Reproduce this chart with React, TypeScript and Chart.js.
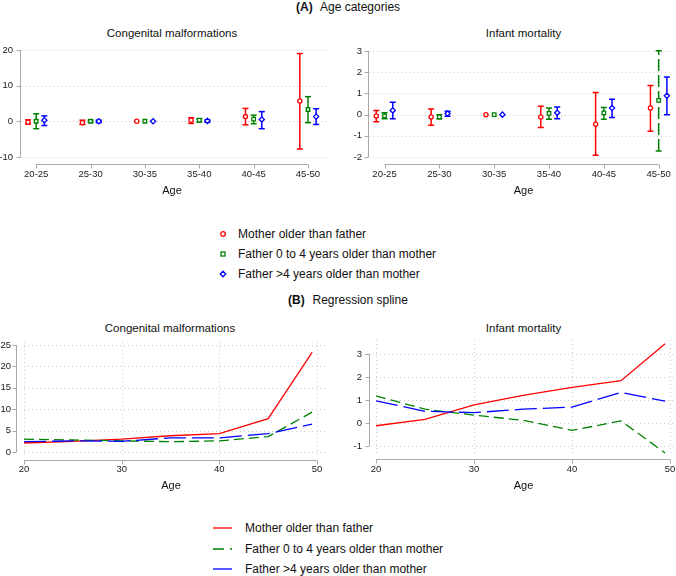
import React, { useEffect, useRef } from 'react';
import { Chart, registerables } from 'chart.js';

Chart.register(...registerables);

const FONT = "'Liberation Sans', Arial, Helvetica, sans-serif";

// ---------- shared ----------
const ageGroups = ['20-25', '25-30', '30-35', '35-40', '40-45', '45-50'];
const seriesNames = [
  'Mother older than father',
  'Father 0 to 4 years older than mother',
  'Father >4 years older than mother',
];
const seriesColors = ['#ff0000', '#008000', '#0000ff'];
const markerStyles = ['circle', 'rect', 'rectRot'];
const markerRadii = [2.1, 2.5, 2.6];
const groupOffsets = [-0.15, 0, 0.15];

// ---------- (A) Congenital malformations, by age category ----------
const cmMotherEst = [-0.3, -0.4, 0, 0.3, 1.3, 5.7];
const cmMotherLo = [-0.8, -0.9, null, -0.6, -1.0, -7.8];
const cmMotherHi = [0.4, 0.3, null, 1.0, 3.6, 19.0];
const cmFather04Est = [0, 0, 0, 0.3, 0.6, 3.3];
const cmFather04Lo = [-2.1, -0.3, null, -0.2, -0.7, -0.4];
const cmFather04Hi = [2.1, 0.3, null, 0.7, 1.7, 6.9];
const cmFather4Est = [0.3, 0, 0, 0.1, 0.5, 1.3];
const cmFather4Lo = [-1.2, -0.4, null, -0.3, -2.1, -0.9];
const cmFather4Hi = [1.5, 0.3, null, 0.4, 2.7, 3.5];

// ---------- (A) Infant mortality, by age category ----------
const imMotherEst = [-0.06, -0.11, 0, -0.11, -0.45, 0.31];
const imMotherLo = [-0.34, -0.5, null, -0.61, -1.92, -0.78];
const imMotherHi = [0.2, 0.27, null, 0.39, 1.05, 1.38];
const imFather04Est = [-0.06, -0.11, 0, 0.06, 0.08, 0.67];
const imFather04Lo = [-0.2, -0.2, null, -0.22, -0.22, -1.72];
const imFather04Hi = [0.09, 0.0, null, 0.31, 0.34, 3.02];
const imFather4Est = [0.2, 0.05, 0, 0.09, 0.31, 0.89];
const imFather4Lo = [-0.2, -0.08, null, -0.19, -0.13, 0.0];
const imFather4Hi = [0.58, 0.16, null, 0.36, 0.73, 1.78];
const imDashedCI = [
  [false, false, false, false, false, false],
  [false, false, false, false, false, true],
  [false, false, false, false, false, false],
];
const noDashedCI = [
  [false, false, false, false, false, false],
  [false, false, false, false, false, false],
  [false, false, false, false, false, false],
];

// ---------- (B) Regression spline ----------
const splineAges = [20, 25, 30, 35, 40, 45, 49.5];
const cmSplineMother = [2.1, 2.5, 3.0, 3.8, 4.3, 7.8, 23.3];
const cmSplineFather04 = [3.0, 2.8, 2.6, 2.4, 2.6, 3.6, 9.3];
const cmSplineFather4 = [2.4, 2.6, 2.5, 3.3, 3.3, 4.3, 6.5];
const imSplineMother = [-0.12, 0.16, 0.79, 1.2, 1.55, 1.84, 3.45];
const imSplineFather04 = [1.18, 0.6, 0.34, 0.12, -0.32, 0.09, -1.3];
const imSplineFather4 = [0.96, 0.51, 0.45, 0.6, 0.69, 1.33, 0.95];
const splineDashes = [[], [10, 5], [22, 6]];

// ---------- ticks ----------
const catTicks = [0, 1, 2, 3, 4, 5];
const cmCatYTicks = [-10, 0, 10, 20];
const imCatYTicks = [-2, -1, 0, 1, 2, 3];
const ageTicks = [20, 30, 40, 50];
const cmSplineYTicks = [0, 5, 10, 15, 20, 25];
const imSplineYTicks = [-1, 0, 1, 2, 3];

// ---------- plugin: Stata-like axes & dotted grid ----------
const stataAxesPlugin = {
  id: 'stataAxes',
  beforeDatasetsDraw(chart: any, _args: any, opts: any) {
    const { ctx, chartArea: ca } = chart;
    const xs = chart.scales.x;
    const ys = chart.scales.y;
    const xt: number[] = xs.ticks.map((t: any) => t.value);
    const yt: number[] = ys.ticks.map((t: any) => t.value);
    const line = (x1: number, y1: number, x2: number, y2: number) => {
      ctx.beginPath();
      ctx.moveTo(x1, y1);
      ctx.lineTo(x2, y2);
      ctx.stroke();
    };
    ctx.save();
    ctx.lineWidth = 1;
    ctx.strokeStyle = '#cacaca';
    ctx.setLineDash([1, 3]);
    for (const v of yt) {
      const p = Math.round(ys.getPixelForValue(v)) + 0.5;
      line(ca.left, p, ca.right, p);
    }
    if (opts.xGrid) {
      for (const v of xt) {
        const p = Math.round(xs.getPixelForValue(v)) + 0.5;
        line(p, ca.top, p, ca.bottom - 4);
      }
    }
    ctx.setLineDash([]);
    ctx.strokeStyle = '#a9a9a9';
    const ax = Math.round(ca.left - opts.yAxisGap) + 0.5;
    const yTop = ys.getPixelForValue(Math.max(...yt));
    const yBot = ys.getPixelForValue(Math.min(...yt));
    line(ax, yTop, ax, yBot);
    for (const v of yt) {
      const p = Math.round(ys.getPixelForValue(v)) + 0.5;
      line(ax - 4, p, ax, p);
    }
    const ay = Math.round(ca.bottom) + 0.5;
    const xL = xs.getPixelForValue(Math.min(...xt));
    const xR = xs.getPixelForValue(Math.max(...xt));
    line(xL, ay, xR, ay);
    for (const v of xt) {
      const p = Math.round(xs.getPixelForValue(v)) + 0.5;
      line(p, ay, p, ay + 4);
    }
    ctx.restore();
  },
};

function catDatasets(est: number[][], lo: (number | null)[][], hi: (number | null)[][], dashed: boolean[][]) {
  const ds: any[] = [];
  for (let s = 0; s < 3; s++) {
    const color = seriesColors[s];
    const ciData: any[] = [];
    ageGroups.forEach((_, i) => {
      const x = i + groupOffsets[s];
      ciData.push({ x, y: lo[s][i] }, { x, y: hi[s][i] }, { x, y: null });
    });
    const flags = dashed[s];
    ds.push({
      data: ciData,
      showLine: true,
      spanGaps: false,
      borderColor: color,
      borderWidth: 1.5,
      pointStyle: 'line',
      pointRadius: 3,
      pointHoverRadius: 3,
      pointBorderColor: color,
      pointBorderWidth: 1.5,
      pointBackgroundColor: color,
      segment: {
        borderDash: (c: any) => (flags[Math.floor(c.p0DataIndex / 3)] ? [12, 4] : undefined),
      },
      order: 2,
    });
    ds.push({
      data: ageGroups.map((_, i) => ({ x: i + groupOffsets[s], y: est[s][i] })),
      showLine: false,
      pointStyle: markerStyles[s],
      pointRadius: markerRadii[s],
      pointHoverRadius: markerRadii[s],
      pointBorderWidth: 1.3,
      pointBorderColor: color,
      pointBackgroundColor: '#ffffff',
      order: 1,
    });
  }
  return ds;
}

function splineDatasets(vals: number[][]) {
  return vals.map((v, s) => ({
    data: splineAges.map((a, i) => ({ x: a, y: v[i] })),
    borderColor: seriesColors[s],
    borderWidth: 1.3,
    borderDash: splineDashes[s],
    pointRadius: 0,
    pointHoverRadius: 0,
    tension: 0,
    fill: false,
    order: 3 - s,
  }));
}

type PanelSpec = {
  datasets: any[];
  xTicks: number[];
  yTicks: number[];
  xMin: number;
  xMax: number;
  yMin: number;
  yMax: number;
  xFmt: (v: number) => string;
  padding: { left: number; right: number; top: number; bottom: number };
  yWidth: number;
  xHeight: number;
  yLabelPad: number;
  xLabelPad: number;
  xGrid: boolean;
  yAxisGap: number;
};

function buildConfig(p: PanelSpec): any {
  const tickFont = { family: FONT, size: 9.5 };
  return {
    type: 'line',
    data: { datasets: p.datasets },
    options: {
      responsive: false,
      animation: false,
      events: [],
      layout: { padding: p.padding },
      plugins: {
        legend: { display: false },
        tooltip: { enabled: false },
        stataAxes: { xGrid: p.xGrid, yAxisGap: p.yAxisGap },
      },
      scales: {
        x: {
          type: 'linear',
          min: p.xMin,
          max: p.xMax,
          afterBuildTicks: (s: any) => {
            s.ticks = p.xTicks.map((v) => ({ value: v }));
          },
          afterFit: (s: any) => {
            s.height = p.xHeight;
            s.paddingLeft = 0;
            s.paddingRight = 0;
            s.paddingTop = 0;
            s.paddingBottom = 0;
          },
          grid: { display: false, drawTicks: false },
          border: { display: false },
          ticks: {
            callback: (v: number) => p.xFmt(v),
            font: tickFont,
            color: '#1a1a1a',
            padding: p.xLabelPad,
            maxRotation: 0,
            autoSkip: false,
          },
        },
        y: {
          type: 'linear',
          min: p.yMin,
          max: p.yMax,
          afterBuildTicks: (s: any) => {
            s.ticks = p.yTicks.map((v) => ({ value: v }));
          },
          afterFit: (s: any) => {
            s.width = p.yWidth;
            s.paddingLeft = 0;
            s.paddingRight = 0;
            s.paddingTop = 0;
            s.paddingBottom = 0;
          },
          grid: { display: false, drawTicks: false },
          border: { display: false },
          ticks: {
            callback: (v: number) => String(v),
            font: tickFont,
            color: '#1a1a1a',
            padding: p.yLabelPad,
            autoSkip: false,
          },
        },
      },
    },
    plugins: [stataAxesPlugin],
  };
}

function Panel({ left, top, width, height, spec }: { left: number; top: number; width: number; height: number; spec: () => PanelSpec }) {
  const ref = useRef<HTMLCanvasElement>(null);
  useEffect(() => {
    const chart = new Chart(ref.current as HTMLCanvasElement, buildConfig(spec()));
    return () => chart.destroy();
  }, []);
  return (
    <canvas
      ref={ref}
      width={width}
      height={height}
      style={{ position: 'absolute', left, top, width, height }}
    />
  );
}

function Txt({ x, y, size, children, center = true, bold = false }: any) {
  const lh = Math.round(size * 1.2);
  return (
    <div
      style={{
        position: 'absolute',
        left: x,
        top: y - lh / 2,
        lineHeight: lh + 'px',
        fontSize: size,
        fontFamily: FONT,
        fontWeight: bold ? 700 : 400,
        color: '#111',
        whiteSpace: 'nowrap',
        transform: center ? 'translateX(-50%)' : undefined,
      }}
    >
      {children}
    </div>
  );
}

function MarkerIcon({ x, y, s }: { x: number; y: number; s: number }) {
  const c = seriesColors[s];
  let shape: any;
  if (s === 0) shape = <circle cx={6} cy={6} r={2.3} fill="#fff" stroke={c} strokeWidth={1.3} />;
  else if (s === 1) shape = <rect x={4} y={4} width={4} height={4} fill="#fff" stroke={c} strokeWidth={1.3} />;
  else shape = <polygon points="6,3.2 8.8,6 6,8.8 3.2,6" fill="#fff" stroke={c} strokeWidth={1.3} />;
  return (
    <svg width={12} height={12} style={{ position: 'absolute', left: x - 6, top: y - 6 }}>
      {shape}
    </svg>
  );
}

function LineIcon({ x1, x2, y, s }: { x1: number; x2: number; y: number; s: number }) {
  const dash = s === 1 ? '11 6' : undefined;
  return (
    <svg width={x2 - x1} height={6} style={{ position: 'absolute', left: x1, top: y - 3 }}>
      <line x1={0} y1={3} x2={x2 - x1} y2={3} stroke={seriesColors[s]} strokeWidth={1.3} strokeDasharray={dash} />
    </svg>
  );
}

const specA1 = (): PanelSpec => ({
  datasets: catDatasets(
    [cmMotherEst, cmFather04Est, cmFather4Est],
    [cmMotherLo, cmFather04Lo, cmFather4Lo],
    [cmMotherHi, cmFather04Hi, cmFather4Hi],
    noDashedCI
  ),
  xTicks: catTicks,
  yTicks: cmCatYTicks,
  xMin: -0.28,
  xMax: 5.35,
  yMin: -12,
  yMax: 20,
  xFmt: (v) => ageGroups[v] ?? '',
  padding: { left: 0, right: 9, top: 10, bottom: 0 },
  yWidth: 21,
  xHeight: 26,
  yLabelPad: 8,
  xLabelPad: 5,
  xGrid: false,
  yAxisGap: 1,
});

const specA2 = (): PanelSpec => ({
  datasets: catDatasets(
    [imMotherEst, imFather04Est, imFather4Est],
    [imMotherLo, imFather04Lo, imFather4Lo],
    [imMotherHi, imFather04Hi, imFather4Hi],
    imDashedCI
  ),
  xTicks: catTicks,
  yTicks: imCatYTicks,
  xMin: -0.283,
  xMax: 5.234,
  yMin: -2.33,
  yMax: 3.05,
  xFmt: (v) => ageGroups[v] ?? '',
  padding: { left: 0, right: 1, top: 10, bottom: 0 },
  yWidth: 33,
  xHeight: 26,
  yLabelPad: 7,
  xLabelPad: 5,
  xGrid: false,
  yAxisGap: 1,
});

const specB1 = (): PanelSpec => ({
  datasets: splineDatasets([cmSplineMother, cmSplineFather04, cmSplineFather4]),
  xTicks: ageTicks,
  yTicks: cmSplineYTicks,
  xMin: 20,
  xMax: 50.82,
  yMin: -1.87,
  yMax: 25.7,
  xFmt: (v) => String(v),
  padding: { left: 0, right: 11, top: 12, bottom: 0 },
  yWidth: 24,
  xHeight: 20,
  yLabelPad: 13,
  xLabelPad: 4,
  xGrid: true,
  yAxisGap: 8,
});

const specB2 = (): PanelSpec => ({
  datasets: splineDatasets([imSplineMother, imSplineFather04, imSplineFather4]),
  xTicks: ageTicks,
  yTicks: imSplineYTicks,
  xMin: 20,
  xMax: 50.61,
  yMin: -1.565,
  yMax: 3.61,
  xFmt: (v) => String(v),
  padding: { left: 0, right: 0, top: 10, bottom: 0 },
  yWidth: 40,
  xHeight: 21,
  yLabelPad: 14,
  xLabelPad: 5,
  xGrid: true,
  yAxisGap: 7,
});

export default function App() {
  return (
    <div
      style={{
        position: 'fixed',
        left: 0,
        top: 0,
        width: 676,
        height: 576,
        background: '#ffffff',
        overflow: 'hidden',
      }}
    >
      {/* (A) header */}
      <Txt x={296} y={7} size={12} center={false} bold>(A)</Txt>
      <Txt x={320} y={7} size={12} center={false}>Age categories</Txt>
      <Txt x={172} y={33} size={11.5}>Congenital malformations</Txt>
      <Txt x={523.5} y={33} size={11.5}>Infant mortality</Txt>

      <Panel left={0} top={40} width={336} height={150} spec={specA1} />
      <Panel left={336} top={40} width={340} height={150} spec={specA2} />

      <Txt x={172} y={190} size={11}>Age</Txt>
      <Txt x={523.5} y={190} size={11}>Age</Txt>

      {/* legend A */}
      {seriesNames.map((n, s) => (
        <React.Fragment key={'la' + s}>
          <MarkerIcon x={223} y={234 + s * 20} s={s} />
          <Txt x={238} y={234 + s * 20} size={12} center={false}>{n}</Txt>
        </React.Fragment>
      ))}

      {/* (B) header */}
      <Txt x={288} y={300} size={12} center={false} bold>(B)</Txt>
      <Txt x={312.5} y={300} size={12} center={false}>Regression spline</Txt>
      <Txt x={170} y={328} size={11.5}>Congenital malformations</Txt>
      <Txt x={523.5} y={328} size={11.5}>Infant mortality</Txt>

      <Panel left={0} top={330} width={336} height={150} spec={specB1} />
      <Panel left={336} top={330} width={340} height={150} spec={specB2} />

      <Txt x={171} y={485} size={11}>Age</Txt>
      <Txt x={523.5} y={485} size={11}>Age</Txt>

      {/* legend B */}
      {seriesNames.map((n, s) => (
        <React.Fragment key={'lb' + s}>
          <LineIcon x1={213} x2={232} y={528 + s * 20.6} s={s} />
          <Txt x={245} y={528 + s * 20.6} size={12} center={false}>{n}</Txt>
        </React.Fragment>
      ))}
    </div>
  );
}
